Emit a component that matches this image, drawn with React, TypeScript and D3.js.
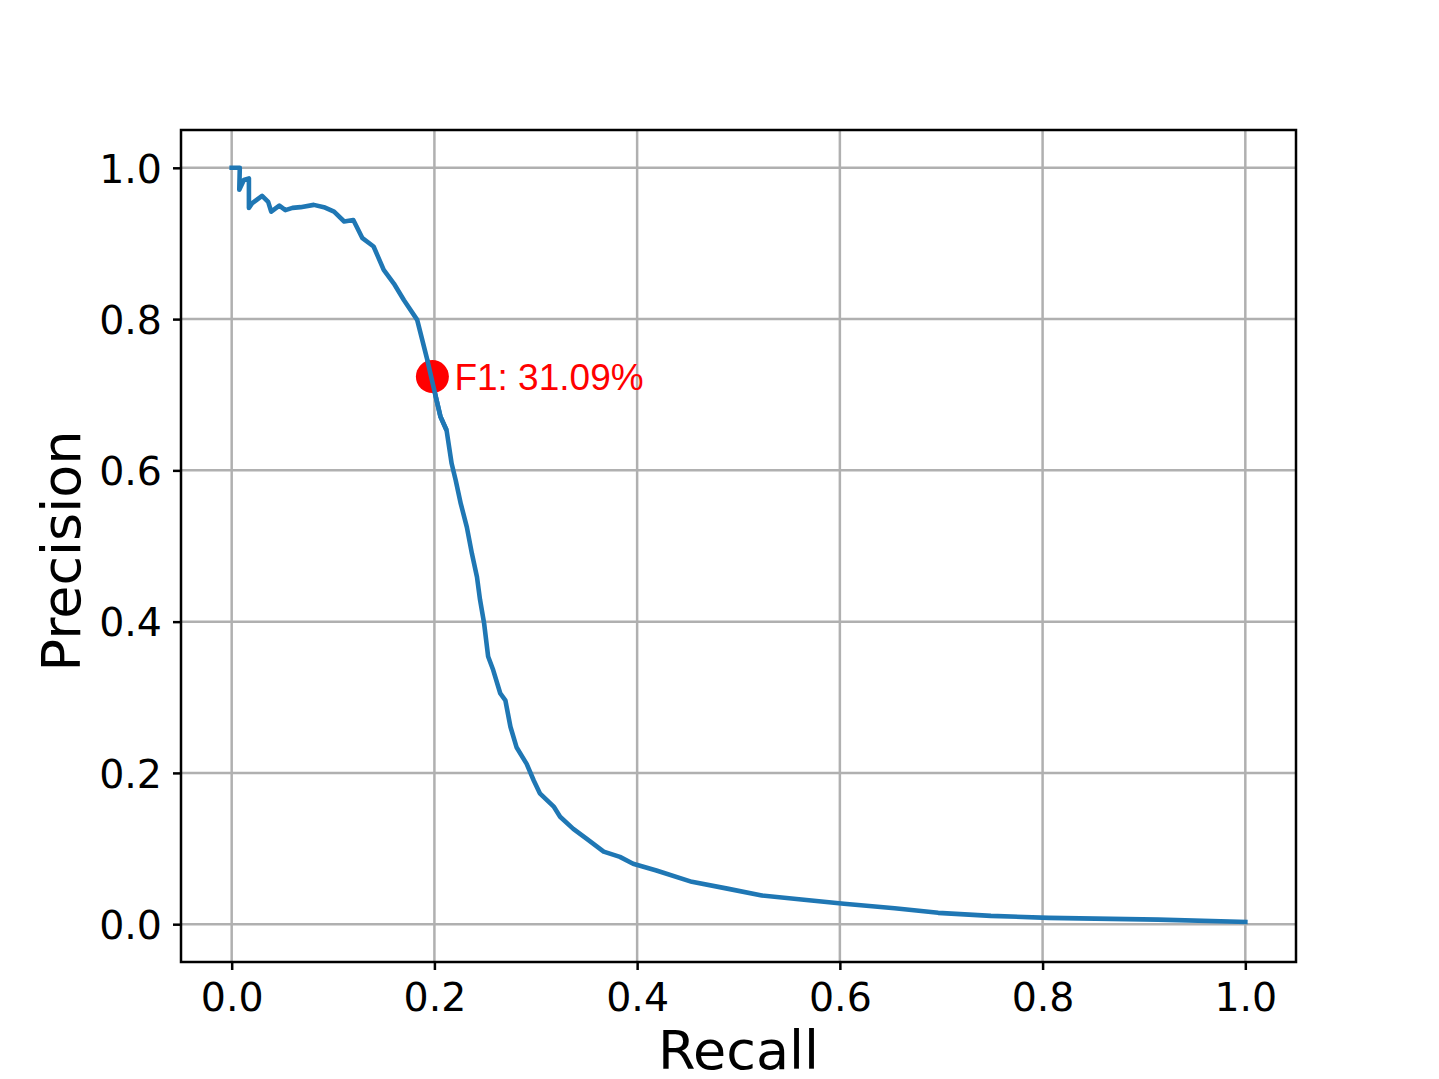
import React, { useEffect, useRef } from 'react';
import * as d3 from 'd3';

// precision/recall curve
const recall = [
  0, 0.008, 0.0075, 0.012, 0.017, 0.017, 0.02, 0.025, 0.03, 0.036, 0.039, 0.047, 0.053, 0.06,
  0.068, 0.081, 0.091, 0.101, 0.111, 0.12, 0.129, 0.14, 0.15, 0.16, 0.17, 0.183, 0.193, 0.199,
  0.206, 0.212, 0.217, 0.221, 0.226, 0.232, 0.237, 0.242, 0.245, 0.249, 0.253, 0.258, 0.265,
  0.27, 0.275, 0.281, 0.291, 0.298, 0.304, 0.318, 0.324, 0.337, 0.35, 0.367, 0.383, 0.396,
  0.419, 0.454, 0.489, 0.523, 0.567, 0.604, 0.654, 0.697, 0.749, 0.806, 0.914, 1.0,
];
const precision = [
  1.0, 1.0, 0.971, 0.984, 0.986, 0.947, 0.953, 0.958, 0.963, 0.955, 0.942, 0.95, 0.944, 0.947,
  0.948, 0.951, 0.948, 0.942, 0.929, 0.931, 0.907, 0.896, 0.865, 0.847, 0.825, 0.799, 0.746, 0.711,
  0.671, 0.653, 0.609, 0.587, 0.556, 0.525, 0.49, 0.459, 0.429, 0.398, 0.354, 0.336, 0.305,
  0.296, 0.261, 0.234, 0.212, 0.19, 0.173, 0.155, 0.142, 0.126, 0.113, 0.096, 0.089, 0.08,
  0.071, 0.056, 0.047, 0.038, 0.032, 0.027, 0.021, 0.015, 0.011, 0.0084, 0.006, 0.003,
];

const bestPoint = { recall: 0.198, precision: 0.724, label: 'F1: 31.09%' };

const xTicks = [0, 0.2, 0.4, 0.6, 0.8, 1.0];
const yTicks = [0, 0.2, 0.4, 0.6, 0.8, 1.0];

const W = 1439;
const H = 1079;

const App = () => {
  const svgRef = useRef<SVGSVGElement>(null);

  useEffect(() => {
    const svg = d3.select(svgRef.current);
    svg.selectAll('*').remove();

    const left = 181, right = 1296, top = 130, bottom = 962;

    const x = d3.scaleLinear().domain([-0.05, 1.05]).range([left, right]);
    const y = d3.scaleLinear().domain([-0.05, 1.05]).range([bottom, top]);

    svg.append('rect').attr('width', W).attr('height', H).attr('fill', 'white');

    // grid
    const grid = svg.append('g').attr('stroke', '#b0b0b0').attr('stroke-width', 2.5);
    xTicks.forEach(t => {
      grid.append('line').attr('x1', x(t)).attr('x2', x(t)).attr('y1', top).attr('y2', bottom);
    });
    yTicks.forEach(t => {
      grid.append('line').attr('x1', left).attr('x2', right).attr('y1', y(t)).attr('y2', y(t));
    });

    // curve
    const pts = recall.map((r, i) => [r, precision[i]] as [number, number]);
    const line = d3.line<[number, number]>()
      .x(d => x(d[0]))
      .y(d => y(d[1]));

    svg.append('path')
      .datum(pts)
      .attr('d', line)
      .attr('fill', 'none')
      .attr('stroke', '#1f77b4')
      .attr('stroke-width', 4.6)
      .attr('stroke-linejoin', 'round')
      .attr('stroke-linecap', 'square');

    // best F1 marker
    svg.append('circle')
      .attr('cx', x(bestPoint.recall))
      .attr('cy', y(bestPoint.precision))
      .attr('r', 16.5)
      .attr('fill', 'red');

    // redraw the bit of curve on top of the marker
    svg.append('path')
      .datum(pts.filter(d => d[0] > 0.185 && d[0] < 0.215))
      .attr('d', line)
      .attr('fill', 'none')
      .attr('stroke', '#1f77b4')
      .attr('stroke-width', 4.6);

    svg.append('text')
      .attr('x', x(bestPoint.recall) + 22)
      .attr('y', y(bestPoint.precision) + 13)
      .attr('fill', 'red')
      .style('font-family', '"Liberation Sans", Arial, sans-serif')
      .style('font-size', '37px')
      .text(bestPoint.label);

    // axes
    const xAxis = svg.append('g')
      .attr('transform', `translate(0,${bottom})`)
      .call(d3.axisBottom(x).tickValues(xTicks).tickFormat(d3.format('.1f')).tickSize(8).tickPadding(13));
    const yAxis = svg.append('g')
      .attr('transform', `translate(${left},0)`)
      .call(d3.axisLeft(y).tickValues(yTicks).tickFormat(d3.format('.1f')).tickSize(8).tickPadding(11));

    [xAxis, yAxis].forEach(ax => {
      ax.select('.domain').remove();
      ax.selectAll('line').attr('stroke', '#000').attr('stroke-width', 2.5);
      ax.selectAll('text')
        .attr('fill', '#000')
        .style('font-family', '"DejaVu Sans", sans-serif')
        .style('font-size', '39.5px');
    });
    xAxis.selectAll('text').attr('dy', '0.71em');
    yAxis.selectAll('text').attr('dy', '0.36em');

    // spines
    svg.append('rect')
      .attr('x', left)
      .attr('y', top)
      .attr('width', right - left)
      .attr('height', bottom - top)
      .attr('fill', 'none')
      .attr('stroke', '#000')
      .attr('stroke-width', 2.5);

    // axis labels
    svg.append('text')
      .attr('x', (left + right) / 2)
      .attr('y', 1069)
      .attr('text-anchor', 'middle')
      .style('font-family', '"DejaVu Sans", sans-serif')
      .style('font-size', '54px')
      .text('Recall');

    svg.append('text')
      .attr('transform', `translate(80,${(top + bottom) / 2 + 5}) rotate(-90)`)
      .attr('text-anchor', 'middle')
      .style('font-family', '"DejaVu Sans", sans-serif')
      .style('font-size', '54px')
      .text('Precision');
  }, []);

  return (
    <div style={{ position: 'absolute', left: 0, top: 0 }}>
      <svg ref={svgRef} width={W} height={H} style={{ display: 'block' }}></svg>
    </div>
  );
};

export default App;
